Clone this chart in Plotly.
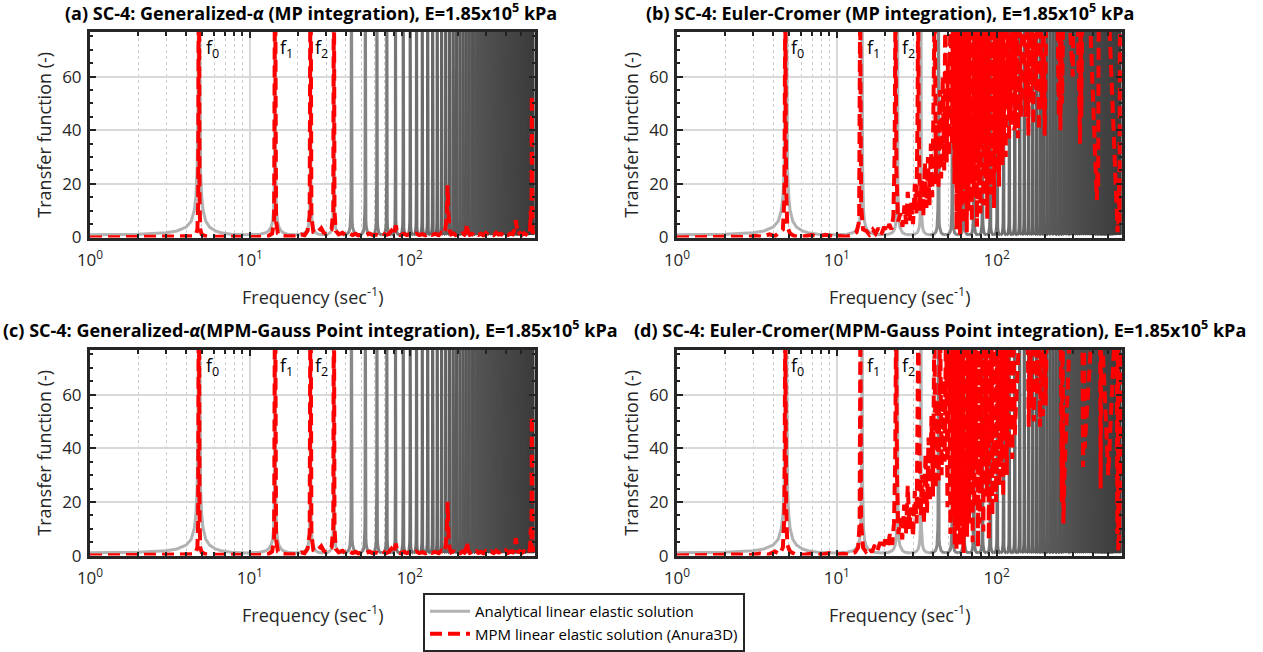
import math
import plotly.graph_objects as go

# ---------------- data ----------------
# resonance frequencies of the analytical transfer function (Hz)
peak_freqs = [4.8, 14.4, 24.0, 33.6, 43.2, 52.8, 62.4, 72.0, 81.6, 91.2,
              100.8, 110.4, 120.0, 129.6, 139.2, 148.8, 158.4, 168.0, 177.6, 187.2,
              196.8, 206.4, 216.0, 225.6, 235.2, 244.8, 254.4, 264.0, 273.6, 283.2,
              292.8, 302.4, 312.0, 321.6, 331.2, 340.8, 350.4, 360.0, 369.6, 379.2,
              388.8, 398.4, 408.0, 417.6, 427.2, 436.8, 446.4, 456.0, 465.6, 475.2,
              484.8, 494.4, 504.0, 513.6, 523.2, 532.8, 542.4, 552.0, 561.6, 571.2,
              580.8, 590.4]
# shape of one resonance peak (offset from the peak in Hz, transfer value)
profile_offset = [-4.8, -3.8, -2.8, -1.8, -1.3, -0.8, -0.5, -0.3, -0.2, -0.12, -0.06, 0.0,
                  0.06, 0.12, 0.2, 0.3, 0.5, 0.8, 1.3, 1.8, 2.8, 3.8, 4.8]
profile_value = [1.0, 1.05, 1.26, 1.8, 2.45, 3.9, 6.1, 10.2, 15.3, 25.0, 50.0, 120.0,
                 50.0, 25.0, 15.3, 10.2, 6.1, 3.9, 2.45, 1.8, 1.26, 1.05, 1.0]

# (a) Generalized-alpha, MP integration
a_freq = [1.0, 1.5, 2.0, 2.5, 3.0, 3.5, 4.0, 4.4, 4.6, 4.7, 4.75, 4.8, 4.85, 4.9, 5.0, 5.3, 6, 7, 8, 9,
          10, 11, 12, 13, 13.8, 14.2, 14.4, 14.6, 15, 16, 17, 18, 19, 20, 21, 22, 23, 23.7, 24, 24.3,
          25, 26, 27, 28, 29, 30, 31, 32.5, 33.3, 33.6, 33.9, 34.5, 36, 38, 40, 42, 44, 46, 48, 50,
          53, 56, 59, 62, 65, 68, 71, 74, 77, 80, 82, 84, 88, 92, 96, 100, 105, 110, 115, 120,
          126, 132, 138, 145, 152, 158, 164, 168, 171, 173, 175, 178, 182, 188, 194, 200, 207, 214, 220, 226,
          229, 232, 238, 246, 254, 262, 270, 280, 290, 300, 312, 324, 336, 348, 360, 373, 386, 400, 414, 428,
          442, 455, 462, 468, 476, 490, 505, 520, 535, 550, 560, 568, 573, 577, 580, 582, 584, 588, 595, 600,
          605, 615]
a_tf = [0.0, 0.05, 0.05, 0.1, 0.1, 0.15, 0.25, 0.5, 1.2, 3, 12, 120, 12, 3, 1.2, 0.5, 0.3, 0.2, 0.2, 0.15,
        0.15, 0.2, 0.3, 0.5, 1.5, 6, 120, 6, 1.5, 0.7, 0.5, 0.4, 0.6, 0.5, 1.2, 0.8, 2.5, 8, 120, 8,
        2, 1.5, 2.5, 3.5, 1.8, 1.2, 2, 3, 10, 120, 10, 2.5, 1.2, 1.8, 0.8, 1.5, 0.9, 1.4, 0.7, 1.2,
        0.8, 1.5, 0.9, 1.1, 0.7, 1.6, 0.9, 1.3, 2.5, 1.0, 4.5, 1.2, 0.8, 1.4, 0.9, 1.2, 0.7, 1.5, 0.9, 1.3,
        0.8, 1.6, 1.0, 1.4, 0.8, 1.8, 1.2, 3.5, 8, 19.5, 9, 2.5, 1.2, 1.6, 0.9, 1.3, 0.8, 1.5, 1.1, 2.8,
        5, 2, 1.0, 1.4, 0.8, 1.6, 1.0, 1.4, 0.8, 1.7, 1.0, 1.5, 0.9, 1.8, 1.1, 1.4, 0.8, 1.9, 1.0, 1.5,
        1.2, 3, 6.5, 2.5, 1.1, 1.7, 1.0, 1.6, 1.2, 2.2, 1.4, 3, 10, 2.5, 8, 53, 10, 2, 1.5, 3,
        1.5, 2]

# (b) Euler-Cromer, MP integration
b_freq = [1.0, 1.3, 1.8, 2.2, 2.7, 3.1, 3.4, 3.8, 4.1, 4.4, 4.6, 4.7, 4.76, 4.82, 4.9, 5.1, 5.4, 6.0, 7.0, 7.6,
          8.5, 9.5, 10.5, 11.5, 12.5, 13.3, 13.8, 14.0, 14.2, 14.6, 15.3, 16, 16.8, 17.5, 18.2, 19, 19.8, 20.5, 21.3, 22,
          22.6, 23.0, 23.3, 23.6, 24.2, 25, 25.8, 26.5, 27.2, 27.8, 28.5, 29.2, 30, 30.8, 31.5, 32.0, 32.3, 32.6, 33.2, 34,
          34.8, 35.6, 36.4, 37.2, 38, 38.8, 39.6, 40.3, 41, 41.7, 42.5, 43.3, 44.2, 45, 46, 47, 47.8, 48.7, 49.6, 50.5,
          51.5, 52.5, 53.5, 54.5,
          55.5, 56.2, 56.9, 57.6, 58.3, 59.0, 59.7, 60.4, 61.1, 61.9, 62.7, 63.5, 64.3, 65.1, 65.9, 66.7, 67.5, 68.3,
          69.1, 70.0, 70.9, 71.8, 72.7, 73.6, 74.5, 75.4, 76.3, 77.2, 78.2, 79.2, 80.2, 81.2, 82.2, 83.2, 84.2, 85.2,
          86.3, 87.4, 88.5, 89.6, 90.7, 91.8, 92.9, 94.0, 95.2, 96.4, 97.6, 98.8, 100.0, 101.2, 102.4, 103.6, 104.9,
          106.2, 107.5, 108.8, 110.1, 111.4, 112.8, 114.2, 115.6, 117.0, 118.4, 119.8, 121.3, 122.8, 124.3, 125.8,
          127.3, 128.9, 130.5, 133, 136, 139, 142, 145, 148, 152, 155, 158, 161, 164, 167, 170, 173, 176, 180, 184,
          188, 192, 196, 200, 203, 206, 220, 240, 245, 248, 251, 254, 257, 260, 263, 280, 300, 303, 306, 320,
          330, 333, 336, 339, 342, 345, 380, 420, 424, 428, 432, 436, 440, 500, 560, 566, 572, 576, 580, 584,
          588, 592, 598, 615]
b_tf = [0, 0.2, 0.1, 0.3, 0.2, 0.6, 0.3, 1.2, 0.5, 1.8, 3, 15, 90, 18, 4, 1.5, 0.6, 0.3, 0.9, 0.3,
        1.0, 0.4, 0.6, 0.3, 1.0, 2, 6, 90, 12, 3, 2.5, 1, 3, 1.5, 3.5, 1.2, 4, 2, 5, 3,
        8, 30, 90, 25, 6, 9, 4, 12, 5, 17, 6, 13, 5, 20, 9, 45, 90, 40, 10, 22,
        8, 28, 11, 30, 12, 35, 15, 50, 90, 20, 42, 18, 55, 22, 60, 25, 90, 28, 65, 30,
        90, 35, 90, 20,
        90, 3, 90, 8, 90, 1, 90, 12, 90, 5, 90, 18, 90, 2, 90, 10, 90, 25,
        90, 6, 90, 15, 90, 30, 90, 4, 90, 20, 90, 9, 90, 35, 90, 12, 90, 22,
        90, 7, 90, 28, 90, 16, 90, 40, 90, 11, 90, 24, 90, 33, 90, 19, 90,
        45, 90, 27, 90, 38, 90, 30, 90, 48, 90, 36, 90, 42, 90,
        55, 90, 40, 42, 90, 37, 90, 45, 90, 90, 45, 90, 38, 90, 50, 90, 42, 90, 55, 90,
        40, 90, 48, 90, 38, 90, 95, 90, 90, 45, 90, 40, 90, 50, 90, 95, 90, 60, 90, 95,
        90, 40, 35, 90, 45, 90, 95, 90, 20, 14, 25, 18, 90, 95, 90, 15, 10, 2, 8, 4,
        20, 6, 90, 90]

# (c) Generalized-alpha, MPM-Gauss Point integration
c_freq = [1.0, 1.5, 2.0, 2.5, 3.0, 3.5, 4.0, 4.4, 4.6, 4.7, 4.75, 4.8, 4.85, 4.9, 5.0, 5.3, 6, 7, 8, 9,
          10, 11, 12, 13, 13.8, 14.2, 14.4, 14.6, 15, 16, 17, 18, 19, 20, 21, 22, 23, 23.7, 24, 24.3,
          25, 26, 27, 28, 29, 30, 31, 32.5, 33.3, 33.6, 33.9, 34.5, 36, 38, 40, 42, 44, 46, 48, 50,
          53, 56, 59, 62, 65, 68, 71, 74, 77, 80, 82, 84, 88, 92, 96, 100, 105, 110, 115, 120,
          126, 132, 138, 145, 152, 158, 164, 168, 171, 173, 175, 178, 182, 188, 194, 200, 207, 214, 220, 226,
          229, 232, 238, 246, 254, 262, 270, 280, 290, 300, 312, 324, 336, 348, 360, 373, 386, 400, 414, 428,
          442, 455, 462, 468, 476, 490, 505, 520, 535, 550, 560, 568, 573, 577, 580, 582, 584, 588, 595, 600,
          605, 615]
c_tf = [0.0, 0.05, 0.05, 0.1, 0.1, 0.15, 0.25, 0.5, 1.2, 3, 12, 120, 12, 3, 1.2, 0.5, 0.3, 0.2, 0.2, 0.15,
        0.15, 0.2, 0.3, 0.5, 1.5, 6, 120, 6, 1.5, 0.7, 0.5, 0.4, 0.6, 0.5, 1.2, 0.8, 2.5, 8, 120, 8,
        2, 1.5, 2.5, 3.5, 1.8, 1.2, 2, 3, 10, 120, 10, 2.5, 1.2, 1.8, 0.8, 1.5, 0.9, 1.4, 0.7, 1.2,
        0.8, 1.5, 0.9, 1.1, 0.7, 1.6, 0.9, 1.3, 2.5, 1.0, 4.5, 1.2, 0.8, 1.4, 0.9, 1.2, 0.7, 1.5, 0.9, 1.3,
        0.8, 1.6, 1.0, 1.4, 0.8, 1.8, 1.2, 3.5, 8, 20, 9, 2.5, 1.2, 1.6, 0.9, 1.3, 0.8, 1.5, 1.1, 2.8,
        5, 2, 1.0, 1.4, 0.8, 1.6, 1.0, 1.4, 0.8, 1.7, 1.0, 1.5, 0.9, 1.8, 1.1, 1.4, 0.8, 1.9, 1.0, 1.5,
        1.2, 3, 6.5, 2.5, 1.1, 1.7, 1.0, 1.6, 1.2, 2.2, 1.4, 3, 10, 2.5, 8, 52, 10, 2, 1.5, 3,
        1.5, 2]

# (d) Euler-Cromer, MPM-Gauss Point integration
d_freq = [1, 1.4, 1.9, 2.4, 2.9, 3.3, 3.7, 4.1, 4.4, 4.6, 4.7, 4.76, 4.82, 4.9, 5.1, 5.5, 6.2, 7, 8, 9,
          10, 11, 12, 13, 13.6, 13.9, 14.05, 14.2, 14.6, 15.2, 16, 16.6, 17.3, 18, 18.7, 19.4, 20.1, 20.8, 21.5, 22.2,
          22.8, 23.2, 23.5, 23.8, 24.3, 25, 25.7, 26.4, 27.1, 27.8, 28.5, 29.2, 30, 30.8, 31.6, 32.1, 32.4, 32.8, 33.5, 34.3,
          35.1, 35.9, 36.7, 37.5, 38.3, 39.1, 40, 40.8, 41.6, 42.5, 43.4, 44.3, 45.3, 46.3, 47.3, 48.3, 49.3, 50.3, 51.4, 52.5,
          53.3, 54.0, 54.7, 55.4, 56.1, 56.8, 57.5, 58.2, 59.0, 59.8, 60.6, 61.4, 62.2, 63.0, 63.8, 64.6, 65.4, 66.3,
          67.2, 68.1, 69.0, 69.9, 70.8, 71.7, 72.6, 73.5, 74.5, 75.5, 76.5, 77.5, 78.5, 79.5, 80.5, 81.6, 82.7, 83.8,
          84.9, 86.0, 87.1, 88.2, 89.4, 90.6, 91.8, 93.0, 94.2, 95.4, 96.6, 97.9, 99.2, 100.5, 101.8, 103.1, 104.4,
          105.8, 107.2, 108.6, 110.0, 111.4, 112.9, 114.4, 115.9, 117.4, 119.0, 120.6, 122.2, 123.8, 125.4, 127.0,
          130, 140, 152, 156, 159, 162, 165, 168, 171, 175, 179, 183, 187, 191, 195, 199, 203, 207, 225, 245,
          252, 256, 259, 262, 266, 290, 330, 344, 348, 352, 356, 400, 440, 444, 448, 452, 500, 560, 565, 570,
          574, 578, 583, 588, 615]
d_tf = [0, 0.2, 0.1, 0.4, 0.2, 0.8, 0.3, 1.5, 0.6, 3, 15, 90, 18, 4, 1.5, 0.5, 0.3, 0.8, 0.3, 0.9,
        0.4, 0.7, 0.3, 1.2, 3, 12, 90, 12, 3, 1.5, 3, 1.2, 4, 2, 5, 2.5, 6, 3, 8, 4,
        12, 35, 90, 30, 8, 14, 6, 19, 8, 26, 10, 18, 7, 24, 12, 50, 90, 45, 15, 30,
        12, 38, 16, 44, 20, 52, 22, 90, 25, 58, 28, 90, 30, 66, 35, 90, 18, 90, 8, 90,
        14, 90, 4, 90, 2, 90, 10, 90, 4, 90, 15, 90, 1, 90, 20, 90, 7, 90,
        12, 90, 28, 90, 5, 90, 18, 90, 32, 90, 3, 90, 12, 90, 25, 90, 9, 90,
        38, 90, 22, 90, 6, 90, 42, 90, 15, 90, 30, 90, 20, 90, 48, 90, 26,
        90, 35, 90, 22, 90, 44, 90, 30, 90, 40, 90, 50, 90, 36, 90, 45,
        90, 95, 90, 48, 90, 55, 90, 50, 90, 60, 90, 48, 90, 52, 90, 56, 90, 95, 95, 90,
        20, 90, 12, 30, 90, 95, 90, 33, 90, 40, 90, 95, 90, 25, 90, 30, 95, 90, 8, 90,
        1.5, 5, 20, 90, 90]

titles = [
    "<b>(a) SC-4: Generalized-<i>α</i> (MP integration), E=1.85x10<sup>5</sup> kPa</b>",
    "<b>(b) SC-4: Euler-Cromer (MP integration), E=1.85x10<sup>5</sup> kPa</b>",
    "<b>(c) SC-4: Generalized-<i>α</i>(MPM-Gauss Point integration), E=1.85x10<sup>5</sup> kPa</b>",
    "<b>(d) SC-4: Euler-Cromer(MPM-Gauss Point integration), E=1.85x10<sup>5</sup> kPa</b>",
]
x_tick_vals = [1, 10, 100]
x_tick_text = ["10<sup>0</sup>", "10<sup>1</sup>", "10<sup>2</sup>"]
x_minor_vals = [2, 3, 4, 5, 6, 7, 8, 9, 20, 30, 40, 50, 60, 70, 80, 90, 200, 300, 400, 500]
y_tick_vals = [0, 20, 40, 60]
mode_labels = ["f<sub>0</sub>", "f<sub>1</sub>", "f<sub>2</sub>"]

# ---------------- layout geometry (pixels) ----------------
W, H = 1263, 652
FONT = "Open Sans"
XMAX_LOG = 2.785
YMAX = 76.7

panels = [
    dict(x0=90, x1=535, y0=32, y1=239, freq=a_freq, tf=a_tf, tcx=311, tcy=12, lab=[5.15, 15.0, 24.7]),
    dict(x0=677, x1=1122, y0=32, y1=239, freq=b_freq, tf=b_tf, tcx=890, tcy=12, lab=[5.0, 15.0, 24.7]),
    dict(x0=90, x1=535, y0=352, y1=559, freq=c_freq, tf=c_tf, tcx=310, tcy=331, lab=[5.15, 15.0, 24.7]),
    dict(x0=677, x1=1122, y0=352, y1=559, freq=d_freq, tf=d_tf, tcx=940, tcy=331, lab=[5.0, 15.0, 24.7]),
]


def gray(f):
    if f < 40:
        g = 178
    else:
        t = math.log10(f / 40.0) / math.log10(600 / 40.0)
        g = int(140 - 80 * t)
    return f"rgb({g},{g},{g})"


fig = go.Figure()
annotations = []
for i, p in enumerate(panels):
    sfx = "" if i == 0 else str(i + 1)
    xr, yr = "x" + sfx, "y" + sfx
    for k, fp in enumerate(peak_freqs):
        xs, ys = [], []
        for d, v in zip(profile_offset, profile_value):
            if fp + d >= 0.95:
                xs.append(fp + d)
                ys.append(v)
        fig.add_trace(go.Scatter(
            x=xs, y=ys, mode="lines", xaxis=xr, yaxis=yr,
            line=dict(color=gray(fp), width=3),
            name="Analytical linear elastic solution", legendgroup="ana",
            showlegend=(i == 0 and k == 0), hoverinfo="skip"))
    fig.add_trace(go.Scatter(
        x=p["freq"], y=p["tf"], mode="lines", xaxis=xr, yaxis=yr,
        line=dict(color="#ff0000", width=4, dash="12px,6px"),
        name="MPM linear elastic solution (Anura3D)", legendgroup="mpm",
        showlegend=(i == 0), hoverinfo="skip"))

    xdom = [p["x0"] / W, p["x1"] / W]
    ydom = [1 - p["y1"] / H, 1 - p["y0"] / H]
    fig.layout["xaxis" + sfx] = dict(
        type="log", range=[0, XMAX_LOG], domain=xdom, anchor=yr,
        tickvals=x_tick_vals, ticktext=x_tick_text,
        ticks="inside", ticklen=6, tickwidth=2, tickcolor="#222",
        showline=True, linecolor="#262626", linewidth=3, mirror="allticks",
        showgrid=True, gridcolor="#d9d9d9", gridwidth=1.5, zeroline=False,
        minor=dict(tickvals=x_minor_vals, ticks="inside", ticklen=4, tickwidth=2,
                   tickcolor="#222", showgrid=True, gridcolor="#cccccc",
                   griddash="dot", gridwidth=1),
        tickfont=dict(family=FONT, size=17, color="#262626"),
        ticklabelstandoff=5, automargin=False)
    fig.layout["yaxis" + sfx] = dict(
        range=[0, YMAX], domain=ydom, anchor=xr,
        tickvals=y_tick_vals,
        ticks="inside", ticklen=6, tickwidth=2, tickcolor="#222",
        showline=True, linecolor="#262626", linewidth=3, mirror="allticks",
        showgrid=True, gridcolor="#d9d9d9", gridwidth=1.5, zeroline=False,
        minor=dict(dtick=5, ticks="inside", ticklen=3, tickwidth=2, tickcolor="#222"),
        tickfont=dict(family=FONT, size=17, color="#262626"),
        ticklabelstandoff=2, automargin=False)

    # panel title
    annotations.append(dict(text=titles[i], x=p["tcx"] / W, y=1 - p["tcy"] / H,
                            xref="paper", yref="paper", xanchor="center", yanchor="middle",
                            showarrow=False, font=dict(family=FONT, size=18, color="#000")))
    # axis titles
    cx = (p["x0"] + p["x1"]) / 2
    annotations.append(dict(text="Frequency (sec<sup>-1</sup>)", x=cx / W, y=1 - (p["y1"] + 59) / H,
                            xref="paper", yref="paper", xanchor="center", yanchor="middle",
                            showarrow=False, font=dict(family=FONT, size=18, color="#262626")))
    annotations.append(dict(text="Transfer function (-)", x=(p["x0"] - 46) / W,
                            y=1 - (p["y0"] + p["y1"]) / 2 / H, textangle=-90,
                            xref="paper", yref="paper", xanchor="center", yanchor="middle",
                            showarrow=False, font=dict(family=FONT, size=18, color="#262626")))
    # f0, f1, f2 labels
    for lab, fx in zip(mode_labels, p["lab"]):
        annotations.append(dict(text=lab, x=math.log10(fx), y=70.5, xref=xr, yref=yr,
                                xanchor="left", yanchor="middle", showarrow=False,
                                font=dict(family=FONT, size=18, color="#000")))

fig.update_layout(
    width=W, height=H, margin=dict(l=0, r=0, t=0, b=0),
    paper_bgcolor="white", plot_bgcolor="white",
    annotations=annotations,
    showlegend=True,
    legend=dict(x=423 / W, y=1 - 597 / H, xanchor="left", yanchor="top",
                bgcolor="white", bordercolor="#262626", borderwidth=2,
                font=dict(family=FONT, size=15, color="#000"),
                tracegroupgap=0, itemwidth=40),
)

fig.write_html("out.html")
